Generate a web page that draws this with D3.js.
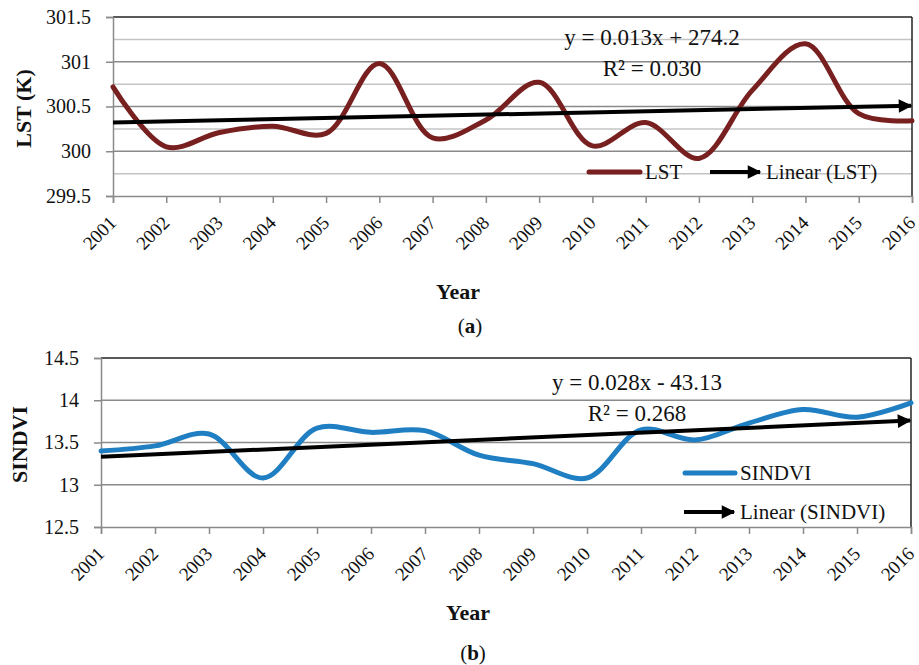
<!DOCTYPE html>
<html>
<head>
<meta charset="utf-8">
<script src="https://cdn.jsdelivr.net/npm/d3@7/dist/d3.min.js"></script>
<style>
  html, body { margin: 0; padding: 0; background: #fff; }
  svg { display: block; }
</style>
</head>
<body>
<svg id="chart" width="919" height="665"></svg>
<script>
const FONT = '"Liberation Serif", "Times New Roman", Tinos, serif';

// Years on the x axis
const years = ["2001","2002","2003","2004","2005","2006","2007","2008",
               "2009","2010","2011","2012","2013","2014","2015","2016"];
const yearNums = years.map(Number);

// Annual mean land surface temperature (K)
const lstValues = [300.72, 300.05, 300.21, 300.28, 300.20, 300.98, 300.15, 300.35,
                   300.77, 300.06, 300.32, 299.92, 300.68, 301.20, 300.42, 300.34];
// Annual seasonally integrated NDVI
const sindviValues = [13.40, 13.46, 13.60, 13.08, 13.67, 13.62, 13.64, 13.35,
                      13.25, 13.08, 13.65, 13.53, 13.73, 13.89, 13.80, 13.97];

const lstTicks = [299.5, 300, 300.5, 301, 301.5];
const lstMinorGrid = [299.75, 300.25, 300.75, 301.25];
const sindviTicks = [12.5, 13, 13.5, 14, 14.5];

const svg = d3.select("#chart");

// Arrowhead for trend lines
svg.append("defs").append("marker")
  .attr("id", "arrow")
  .attr("viewBox", "0 0 10 10")
  .attr("refX", 9).attr("refY", 5)
  .attr("markerWidth", 4).attr("markerHeight", 3.4)
  .attr("markerUnits", "strokeWidth")
  .attr("orient", "auto")
  .append("path").attr("d", "M0,0 L10,5 L0,10 Z").attr("fill", "#000");

// Ordinary least squares fit against the year
function linearFit(xs, ys) {
  const mx = d3.mean(xs), my = d3.mean(ys);
  let sxy = 0, sxx = 0;
  xs.forEach((x, i) => { sxy += (x - mx) * (ys[i] - my); sxx += (x - mx) * (x - mx); });
  const slope = sxy / sxx;
  return x => my + slope * (x - mx);
}

function label(sel, size, weight) {
  return sel.style("font-family", FONT).style("font-size", size + "px")
    .style("font-weight", weight || "normal").attr("fill", "#111");
}

function drawPanel(p) {
  const g = svg.append("g");
  const x = d3.scalePoint().domain(years).range([p.left, p.right]);
  const y = d3.scaleLinear().domain([p.ticks[0], p.ticks[p.ticks.length - 1]]).range([p.bottom, p.top]);

  // minor gridlines
  g.selectAll(".minor").data(p.minor).enter().append("line")
    .attr("x1", p.left).attr("x2", p.right)
    .attr("y1", d => y(d)).attr("y2", d => y(d))
    .attr("stroke", "#c4c4c4").attr("stroke-width", 1.5);
  // major gridlines
  g.selectAll(".major").data(p.ticks.slice(1, -1)).enter().append("line")
    .attr("x1", p.left).attr("x2", p.right)
    .attr("y1", d => y(d)).attr("y2", d => y(d))
    .attr("stroke", "#8a8a8a").attr("stroke-width", 1.5);

  // plot frame: dark top/right, grey axes
  g.append("line").attr("x1", p.left).attr("x2", p.right).attr("y1", p.top).attr("y2", p.top)
    .attr("stroke", "#222").attr("stroke-width", 1.5);
  g.append("line").attr("x1", p.right).attr("x2", p.right).attr("y1", p.top).attr("y2", p.bottom)
    .attr("stroke", "#222").attr("stroke-width", 1.5);

  // y axis
  const yAxis = d3.axisLeft(y).tickValues(p.ticks).tickSize(7).tickPadding(15)
    .tickFormat(d => String(d));
  const ya = g.append("g").attr("transform", `translate(${p.left},0)`).call(yAxis);
  ya.select(".domain").attr("stroke", "#8a8a8a").attr("stroke-width", 1.5);
  ya.selectAll(".tick line").attr("stroke", "#8a8a8a").attr("stroke-width", 1.5);
  label(ya.selectAll(".tick text"), 20);

  // x axis
  const xAxis = d3.axisBottom(x).tickSize(7).tickPadding(4);
  const xa = g.append("g").attr("transform", `translate(0,${p.bottom})`).call(xAxis);
  xa.select(".domain").attr("stroke", "#8a8a8a").attr("stroke-width", 1.5);
  xa.selectAll(".tick line").attr("stroke", "#8a8a8a").attr("stroke-width", 1.5);
  label(xa.selectAll(".tick text"), 19)
    .attr("text-anchor", "end")
    .attr("x", 0).attr("y", 0).attr("dy", 0)
    .attr("transform", "translate(4,28) rotate(-45)");

  // data series, smoothed
  const line = d3.line()
    .x((d, i) => x(years[i]))
    .y(d => y(d))
    .curve(d3.curveCatmullRom.alpha(0.5));
  g.append("path").datum(p.values)
    .attr("d", line)
    .attr("fill", "none").attr("stroke", p.color).attr("stroke-width", 5)
    .attr("stroke-linejoin", "round").attr("stroke-linecap", "round");

  // linear trend with arrow
  const fit = linearFit(yearNums, p.values);
  g.append("line")
    .attr("x1", x(years[0])).attr("y1", y(fit(yearNums[0])))
    .attr("x2", x(years[years.length - 1]) - 1).attr("y2", y(fit(yearNums[yearNums.length - 1])))
    .attr("stroke", "#000").attr("stroke-width", 4)
    .attr("marker-end", "url(#arrow)");

  // trend equation
  label(g.append("text"), 23).attr("x", p.eqX).attr("y", p.eqY)
    .attr("text-anchor", "middle").text(p.eq);
  label(g.append("text"), 23).attr("x", p.eqX).attr("y", p.eqY + 31)
    .attr("text-anchor", "middle").text(p.r2);

  // legend
  p.legend.forEach(item => {
    if (item.arrow) {
      g.append("line").attr("x1", item.x).attr("x2", item.x + item.len - 1)
        .attr("y1", item.y).attr("y2", item.y)
        .attr("stroke", "#000").attr("stroke-width", 4).attr("marker-end", "url(#arrow)");
    } else {
      g.append("line").attr("x1", item.x).attr("x2", item.x + item.len)
        .attr("y1", item.y).attr("y2", item.y)
        .attr("stroke", p.color).attr("stroke-width", 5).attr("stroke-linecap", "round");
    }
    label(g.append("text"), 21).attr("x", item.x + item.len + 5).attr("y", item.y + 7)
      .text(item.label);
  });

  // axis titles
  label(g.append("text"), 22, "bold")
    .attr("transform", `translate(${p.yTitleX},${(p.top + p.bottom) / 2 + 2}) rotate(-90)`)
    .attr("text-anchor", "middle").text(p.yTitle);
  label(g.append("text"), 22, "bold").attr("x", p.xTitleX).attr("y", p.xTitleY)
    .attr("text-anchor", "middle").text("Year");

  // panel letter
  const cap = label(g.append("text"), 21).attr("x", p.capX).attr("y", p.capY)
    .attr("text-anchor", "middle");
  cap.append("tspan").text("(");
  cap.append("tspan").style("font-weight", "bold").text(p.cap);
  cap.append("tspan").text(")");
}

drawPanel({
  left: 113, right: 912, top: 17, bottom: 196,
  ticks: lstTicks, minor: lstMinorGrid,
  values: lstValues, color: "#782020",
  eq: "y = 0.013x + 274.2", r2: "R² = 0.030", eqX: 652, eqY: 45,
  legend: [
    { label: "LST", x: 589, y: 172, len: 51 },
    { label: "Linear (LST)", x: 710, y: 172, len: 51, arrow: true }
  ],
  yTitle: "LST (K)", yTitleX: 31,
  xTitleX: 458, xTitleY: 299,
  cap: "a", capX: 470, capY: 333
});

drawPanel({
  left: 101, right: 911, top: 358, bottom: 527,
  ticks: sindviTicks, minor: [],
  values: sindviValues, color: "#1f7fc2",
  eq: "y = 0.028x - 43.13", r2: "R² = 0.268", eqX: 637, eqY: 390,
  legend: [
    { label: "SINDVI", x: 685, y: 473, len: 50 },
    { label: "Linear (SINDVI)", x: 684, y: 512, len: 51, arrow: true }
  ],
  yTitle: "SINDVI", yTitleX: 27,
  xTitleX: 468, xTitleY: 620,
  cap: "b", capX: 473, capY: 660
});
</script>
</body>
</html>
